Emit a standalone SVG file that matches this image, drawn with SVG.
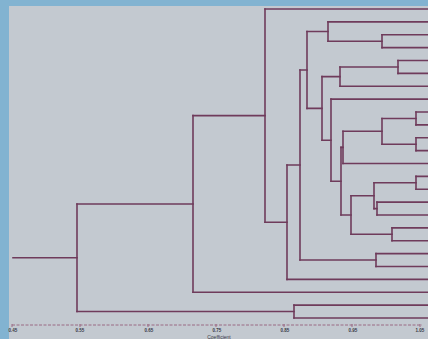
<svg xmlns="http://www.w3.org/2000/svg" width="428" height="339" viewBox="0 0 428 339">
<style>
.bg{fill:#c3c9d0}
.frame{fill:#82b3d1}
.br{fill:none;stroke:#6f3b5b;stroke-width:1.6;stroke-linecap:square}
.cn{fill:none;stroke:#6f3b5b;stroke-width:1.6;stroke-linecap:square}
.ax{fill:none;stroke:#9a6a84;stroke-width:1}
.axd{fill:none;stroke:#9a6a84;stroke-width:1;stroke-dasharray:3 1.5}
.lb{font-family:"Liberation Sans",Arial,sans-serif;font-size:4.5px;font-weight:bold;fill:#3a3a48;text-anchor:middle}
.tt{font-family:"Liberation Sans",Arial,sans-serif;font-size:5px;fill:#3a3a48;text-anchor:middle}
</style>
<rect class="bg" x="0" y="0" width="428" height="339"/>
<rect class="frame" x="0" y="0" width="9" height="339"/>
<rect class="frame" x="0" y="0" width="428" height="6"/>

<g id="connectors">
<path class="cn" d="M13 257.8H77"/>
<path class="cn" d="M77 204H193 M77 311.5H294"/>
<path class="cn" d="M193 115.6H265 M193 292.3H428"/>
<path class="cn" d="M265 9H428 M265 222.2H287"/>
<path class="cn" d="M287 165H300 M287 279.4H428"/>
<path class="cn" d="M300 70H307 M300 260H376"/>
<path class="cn" d="M376 253.6H428 M376 266.5H428"/>
<path class="cn" d="M307 31.55H328 M307 108.4H322"/>
<path class="cn" d="M328 21.9H428 M328 41.2H382"/>
<path class="cn" d="M382 34.8H428 M382 47.6H428"/>
<path class="cn" d="M322 76.6H340 M322 140.2H331"/>
<path class="cn" d="M340 67H398 M340 86.3H428"/>
<path class="cn" d="M398 60.5H428 M398 73.4H428"/>
<path class="cn" d="M331 99.1H428 M331 181.2H341"/>
<path class="cn" d="M341 147.4H343 M341 215H351"/>
<path class="cn" d="M343 131.3H382 M343 163.5H428"/>
<path class="cn" d="M382 118.5H416 M382 144.2H416"/>
<path class="cn" d="M416 112H428 M416 124.9H428 M416 137.8H428 M416 150.6H428"/>
<path class="cn" d="M351 195.7H374 M351 234.3H392"/>
<path class="cn" d="M374 182.8H416 M374 208.6H377"/>
<path class="cn" d="M416 176.4H428 M416 189.3H428"/>
<path class="cn" d="M377 202.1H428 M377 215H428"/>
<path class="cn" d="M392 227.9H428 M392 240.8H428"/>
<path class="cn" d="M294 305.1H428 M294 318H428"/>
</g>

<g id="n24"><path class="br" d="M77 204V311.5"/></g>
<g id="n22"><path class="br" d="M193 115.6V292.3"/></g>
<g id="n23"><path class="br" d="M294 305.1V318"/></g>
<g id="n21"><path class="br" d="M265 9V222.2"/></g>
<g id="n20"><path class="br" d="M287 165V279.4"/></g>
<g id="n19"><path class="br" d="M300 70V260"/></g>
<g id="n18"><path class="br" d="M376 253.6V266.5"/></g>
<g id="n17"><path class="br" d="M307 31.55V108.4"/></g>
<g id="n2"><path class="br" d="M328 21.9V41.2"/></g>
<g id="n1"><path class="br" d="M382 34.8V47.6"/></g>
<g id="n16"><path class="br" d="M322 76.6V140.2"/></g>
<g id="n4"><path class="br" d="M340 67V86.3"/></g>
<g id="n3"><path class="br" d="M398 60.5V73.4"/></g>
<g id="n15"><path class="br" d="M331 99.1V181.2"/></g>
<g id="n14"><path class="br" d="M341 147.4V215"/></g>
<g id="n8"><path class="br" d="M343 131.3V163.5"/></g>
<g id="n7"><path class="br" d="M382 118.5V144.2"/></g>
<g id="n5"><path class="br" d="M416 112V124.9"/></g>
<g id="n6"><path class="br" d="M416 137.8V150.6"/></g>
<g id="n13"><path class="br" d="M351 195.7V234.3"/></g>
<g id="n11"><path class="br" d="M374 182.8V208.6"/></g>
<g id="n9"><path class="br" d="M416 176.4V189.3"/></g>
<g id="n10"><path class="br" d="M377 202.1V215"/></g>
<g id="n12"><path class="br" d="M392 227.9V240.8"/></g>

<g id="axis">
<path class="axd" d="M12 325H422"/>
<path class="ax" d="M12 324V327 M80 324V327 M148 324V327 M216 324V327 M284 324V327 M352 324V327 M420 324V327"/>
<text class="lb" x="13" y="331.5">0.45</text>
<text class="lb" x="80" y="331.5">0.55</text>
<text class="lb" x="149" y="331.5">0.65</text>
<text class="lb" x="217" y="331.5">0.75</text>
<text class="lb" x="285" y="331.5">0.85</text>
<text class="lb" x="353" y="331.5">0.95</text>
<text class="lb" x="420" y="331.5">1.05</text>
<text class="tt" x="219" y="338.5">Coefficient</text>
</g>
</svg>
